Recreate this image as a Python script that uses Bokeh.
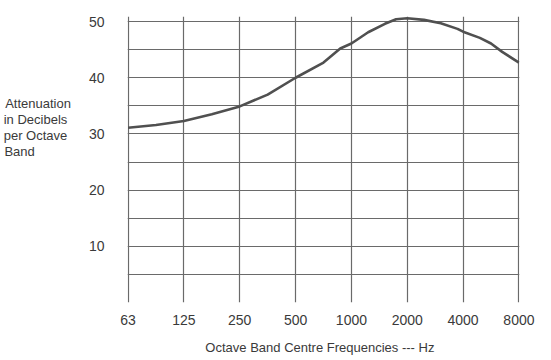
from bokeh.plotting import figure
from bokeh.models import FixedTicker, Range1d
from bokeh.embed import file_html
from bokeh.resources import INLINE

# Octave band categories (equally spaced on the chart)
bands = ["63", "125", "250", "500", "1000", "2000", "4000", "8000"]
# Curve (position index along the band axis)
curve_pos = [0, 0.5, 1, 1.5, 2, 2.5, 3, 3.5, 3.8, 4, 4.3, 4.6, 4.8, 5,
             5.3, 5.6, 5.9, 6, 6.3, 6.5, 6.7, 7]
attenuation_db = [31.1, 31.6, 32.3, 33.5, 34.9, 37.0, 40.0, 42.7, 45.2, 46.1,
                  48.1, 49.6, 50.4, 50.6, 50.3, 49.7, 48.7, 48.2, 47.1, 46.1,
                  44.6, 42.7]
y_labels = [10, 20, 30, 40, 50]
y_grid = [0, 5, 10, 15, 20, 25, 30, 35, 40, 45, 50]
y_label_lines = ["Attenuation", "in Decibels\u00a0", "per Octave\u00a0",
                 "Band" + "\u00a0" * 10]

TEXT = "#3a3a3a"
GRID = "#6a6a6a"

p = figure(width=543, height=358, output_backend="svg", toolbar_location=None,
           x_range=Range1d(-0.01, 7.01), y_range=Range1d(0, 50.9),
           min_border_left=126, min_border_right=24, min_border_top=16,
           min_border_bottom=56)
p.outline_line_color = None
p.background_fill_color = "white"
p.border_fill_color = "white"

p.line(curve_pos, attenuation_db, line_color="#505050", line_width=2.6,
       line_join="round")

# x axis
p.xaxis.ticker = FixedTicker(ticks=list(range(len(bands))))
p.xaxis.major_label_overrides = {i: b for i, b in enumerate(bands)}
p.xaxis.axis_line_color = None
p.xaxis.major_tick_line_color = None
p.xaxis.minor_tick_line_color = None
p.xaxis.major_label_standoff = 6
p.xaxis.major_label_text_font = "Liberation Sans"
p.xaxis.major_label_text_font_size = "14px"
p.xaxis.major_label_text_color = TEXT
p.xaxis.axis_label = "Octave Band Centre Frequencies  ---  Hz"
p.xaxis.axis_label_text_font = "Liberation Sans"
p.xaxis.axis_label_text_font_style = "normal"
p.xaxis.axis_label_text_font_size = "13px"
p.xaxis.axis_label_text_color = TEXT
p.xaxis.axis_label_standoff = 12

# y axis
p.yaxis.ticker = FixedTicker(ticks=y_labels)
p.yaxis.axis_line_color = None
p.yaxis.major_tick_line_color = None
p.yaxis.minor_tick_line_color = None
p.yaxis.major_label_standoff = 17
p.yaxis.major_label_text_font = "Liberation Sans"
p.yaxis.major_label_text_font_size = "14px"
p.yaxis.major_label_text_color = TEXT
# multi-line horizontal axis title; blank trailing lines lift the text block
p.yaxis.axis_label = "\n".join(y_label_lines + [" "] * 4)
p.yaxis.axis_label_orientation = "horizontal"
p.yaxis.axis_label_text_align = "left"
p.yaxis.axis_label_text_font = "Liberation Sans"
p.yaxis.axis_label_text_font_style = "normal"
p.yaxis.axis_label_text_font_size = "13px"
p.yaxis.axis_label_text_color = TEXT
p.yaxis.axis_label_text_line_height = 1.07
p.yaxis.axis_label_standoff = 15

# grids
p.xgrid.ticker = FixedTicker(ticks=list(range(len(bands))))
p.xgrid.bounds = (0, 50)
p.xgrid.grid_line_color = GRID
p.xgrid.grid_line_width = 1.2
p.ygrid.ticker = FixedTicker(ticks=y_grid)
p.ygrid.bounds = (0, 7)
p.ygrid.grid_line_color = GRID
p.ygrid.grid_line_width = 1.2

open("out.html", "w").write(file_html(p, INLINE))
